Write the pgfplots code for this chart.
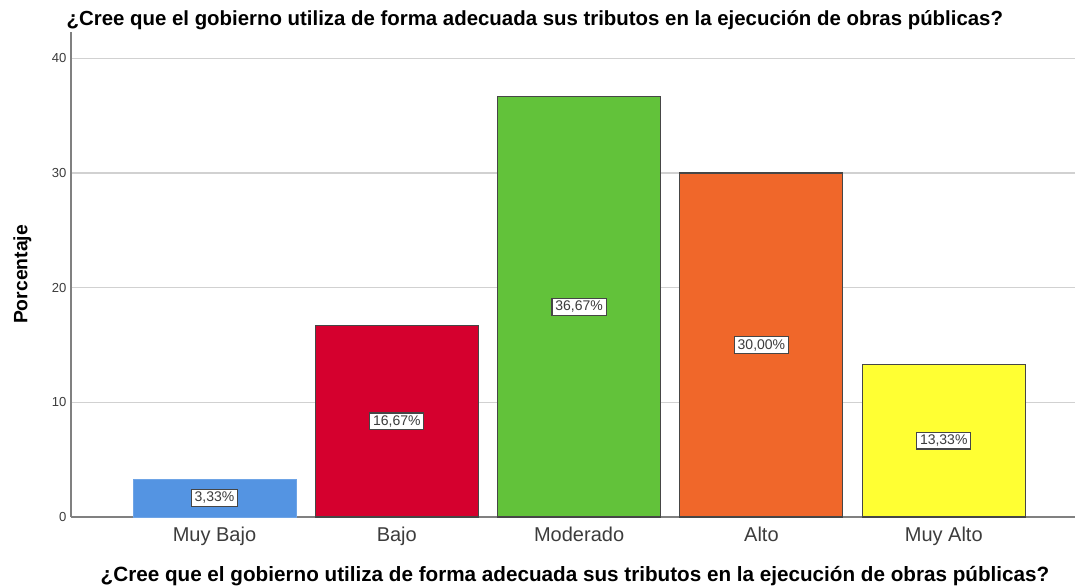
\documentclass[border=0pt]{standalone}
\usepackage{pgfplots}
\pgfplotsset{compat=1.18}
\usepackage{fontspec}
\setmainfont{Liberation Sans}
\definecolor{cblue}{RGB}{84,148,226}
\definecolor{cred}{RGB}{213,0,46}
\definecolor{cgreen}{RGB}{98,194,58}
\definecolor{corange}{RGB}{240,103,42}
\definecolor{cyellow}{RGB}{255,255,51}
\definecolor{cedge}{RGB}{70,70,70}
\definecolor{ctext}{RGB}{60,60,60}
\begin{document}
\begin{tikzpicture}
\begin{axis}[
  at={(0,0)}, anchor=south west,
  scale only axis, width=753pt, height=363.75pt,
  xmin=-0.787, xmax=4.72, ymin=0, ymax=42.3,
  axis x line*=bottom, axis y line*=left,
  axis line style={draw=gray, line width=0.8pt},
  ytick={0,10,20,30,40},
  ymajorgrids, grid style={draw=black!18, line width=0.9pt},
  xtick={0,1,2,3,4},
  xticklabels={Muy Bajo,Bajo,Moderado,Alto,Muy Alto},
  major tick length=0pt,
  /pgf/number format/assume math mode=true,
  xticklabel style={font=\fontsize{15}{15}\selectfont, text=ctext, anchor=base, yshift=-18.5pt},
  yticklabel style={font=\fontsize{9.8}{10}\selectfont, text=ctext},
  title={\textbf{¿Cree que el gobierno utiliza de forma adecuada sus tributos en la ejecución de obras públicas?}},
  title style={at={(axis description cs:0.462,1.0124)}, anchor=base, yshift=-6pt, font=\fontsize{15.3}{16}\selectfont},
  xlabel={\textbf{¿Cree que el gobierno utiliza de forma adecuada sus tributos en la ejecución de obras públicas?}},
  xlabel style={at={(axis description cs:0.502,-0.134)}, anchor=base, font=\fontsize{15.5}{16}\selectfont},
  ylabel={\textbf{Porcentaje}},
  ylabel style={at={(axis description cs:-0.0485,0.5)}, anchor=center, font=\fontsize{14.5}{15}\selectfont},
  clip=false,
]
\addplot[ybar, bar shift=0pt, bar width=0.894, fill=cblue, draw=cblue!85!white] coordinates {(0,3.33)};
\addplot[ybar, bar shift=0pt, bar width=0.894, fill=cred, draw=cedge, line width=0.8pt] coordinates {(1,16.67)};
\addplot[ybar, bar shift=0pt, bar width=0.894, fill=cgreen, draw=cedge, line width=0.8pt] coordinates {(2,36.67)};
\addplot[ybar, bar shift=0pt, bar width=0.894, fill=corange, draw=cedge, line width=0.8pt] coordinates {(3,30.00)};
\addplot[ybar, bar shift=0pt, bar width=0.894, fill=cyellow, draw=cedge, line width=0.8pt] coordinates {(4,13.33)};
\addplot[only marks, mark=none, point meta=explicit symbolic,
  nodes near coords,
  nodes near coords style={anchor=center, fill=white, draw=cedge, line width=0.9pt, inner xsep=2.5pt, inner ysep=2pt, font=\fontsize{10.5}{11}\selectfont, text=ctext}]
  coordinates {(0,1.665)[3,33\%] (1,8.335)[16,67\%] (2,18.335)[36,67\%] (3,15.00)[30,00\%] (4,6.665)[13,33\%]};
\end{axis}
\pgfresetboundingbox
\path[use as bounding box] (-53.25pt,-53.25pt) rectangle (756pt,387.75pt);
\end{tikzpicture}
\end{document}
